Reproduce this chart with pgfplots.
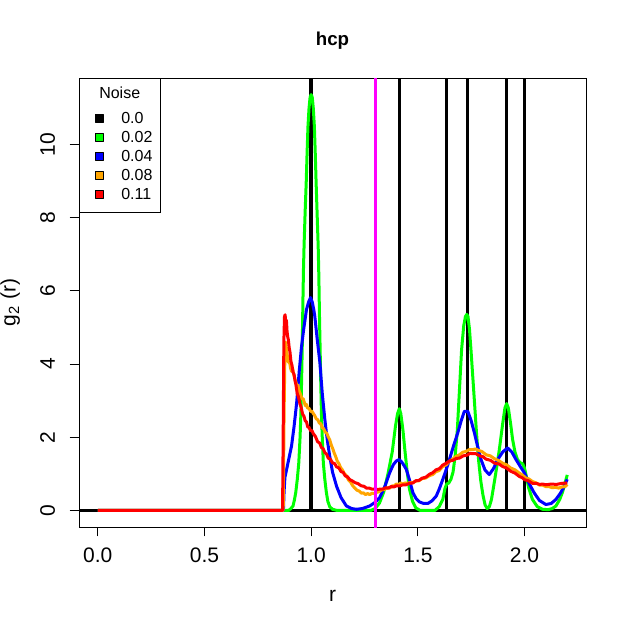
\documentclass[border=0pt]{standalone}
\usepackage{fontspec}
\setmainfont{Liberation Sans}
\usepackage{pgfplots}
\pgfplotsset{compat=1.18}
\definecolor{rgreen}{RGB}{0,255,0}
\definecolor{rblue}{RGB}{0,0,255}
\definecolor{rorange}{RGB}{255,165,0}
\definecolor{rred}{RGB}{255,0,0}
\definecolor{rmag}{RGB}{255,0,255}
\begin{document}
\begin{tikzpicture}
\useasboundingbox (0,0) rectangle (470.25pt,469.5pt);
\begin{axis}[
  at={(59.25pt,74.25pt)}, anchor=south west,
  scale only axis, width=380.25pt, height=336.75pt,
  xmin=-0.088, xmax=2.288, ymin=-0.4548, ymax=11.8248,
  axis line style={line width=0.75pt},
  tick pos=left, tick align=outside, major tick length=7.1pt,
  tick style={line width=0.75pt, black},
  xtick={0,0.5,1,1.5,2}, xticklabels={0.0,0.5,1.0,1.5,2.0},
  ytick={0,2,4,6,8,10}, yticklabels={0,2,4,6,8,10},
  xticklabel style={font=\fontsize{15.75}{18}\selectfont, anchor=base, inner sep=0pt, yshift=-19.6pt},
  yticklabel style={font=\fontsize{15.75}{18}\selectfont, xshift=-11pt, rotate=90, anchor=base, inner sep=0pt},
  xlabel={r}, ylabel={g\textsubscript{2} (r)},
  label style={font=\fontsize{15.75}{18}\selectfont, inner sep=0pt},
  xlabel style={at={(axis description cs:0.5,-0.167)}, anchor=base},
  ylabel style={at={(axis description cs:-0.1252,0.5)}, anchor=base},
  title={\textbf{hcp}},
  title style={font=\fontsize{14}{16}\selectfont, at={(axis description cs:0.5,1.0535)}, anchor=base, inner sep=0pt},
  legend style={at={(axis description cs:0,1)}, anchor=north west, draw=black, line width=0.75pt, fill=white,
    inner xsep=5.85pt, inner ysep=6.2pt, font=\fontsize{12}{14}\selectfont, row sep=2.3pt, column sep=13.4pt,
    nodes={inner sep=0pt, text height=8.6pt, text depth=3.3pt}},
  legend cell align=left,
  every axis plot/.append style={line width=2.25pt, line join=round},
]
% noise 0.0: ideal hcp shells
\addplot[black, ycomb, forget plot, line width=2.6pt] coordinates {(1,20) (1.4142,20) (1.633,20) (1.7321,20) (1.9149,20) (2.0,20)};
\addplot[black, forget plot, line width=2.6pt] coordinates {(-0.2,0) (2.4,0)};
% noise 0.02
\addplot[rgreen, forget plot] coordinates {
(0,0) (0.895,0) (0.905,0.05) (0.915,0.12) (0.922,0.3) (0.928,0.5) (0.935,0.85) (0.942,1.3) (0.948,2.0) (0.952,2.67) (0.955,3.5) (0.958,4.4) (0.961,5.6) (0.964,6.6) (0.967,7.3) (0.972,8.2) (0.977,9.0) (0.981,9.8) (0.985,10.5) (0.990,11.0) (0.995,11.3) (1.0,11.37) (1.005,11.3) (1.010,11.0) (1.015,10.5) (1.019,9.8) (1.023,9.0) (1.028,8.1) (1.033,7.2) (1.036,6.4) (1.039,5.3) (1.042,4.4) (1.045,3.5) (1.048,2.67) (1.052,2.0) (1.057,1.3) (1.064,0.85) (1.071,0.5) (1.078,0.25) (1.087,0.1) (1.1,0.03) (1.12,0) (1.28,0) (1.30,0.05) (1.32,0.2) (1.34,0.5) (1.36,1.0) (1.38,1.6) (1.395,2.3) (1.405,2.65) (1.413,2.78) (1.42,2.65) (1.43,2.2) (1.44,1.6) (1.45,1.05) (1.46,0.6) (1.475,0.25) (1.49,0.07) (1.51,0.0) (1.58,0.0) (1.60,0.1) (1.617,0.3) (1.627,0.6) (1.635,0.72) (1.645,0.75) (1.655,0.85) (1.665,1.05) (1.675,1.5) (1.685,2.2) (1.695,3.3) (1.705,4.4) (1.715,5.05) (1.723,5.3) (1.729,5.36) (1.735,5.3) (1.742,4.95) (1.750,4.3) (1.758,3.6) (1.766,2.9) (1.775,2.1) (1.785,1.35) (1.795,0.8) (1.805,0.42) (1.815,0.15) (1.825,0.05) (1.835,0.1) (1.845,0.3) (1.858,0.76) (1.870,1.2) (1.882,1.67) (1.897,2.35) (1.908,2.8) (1.916,2.92) (1.924,2.8) (1.934,2.4) (1.944,1.94) (1.955,1.6) (1.967,1.39) (1.98,1.3) (1.991,1.28) (2.0,1.15) (2.008,0.94) (2.02,0.6) (2.037,0.30) (2.06,0.1) (2.084,0.03) (2.11,0.02) (2.13,0.05) (2.147,0.12) (2.165,0.3) (2.178,0.5) (2.19,0.75) (2.2,0.97)};
% noise 0.04
\addplot[rblue, forget plot] coordinates {
(0,0) (0.870,0) (0.873,0.5) (0.877,0.9) (0.885,1.12) (0.895,1.4) (0.908,1.76) (0.92,2.3) (0.932,2.94) (0.944,3.8) (0.955,4.49) (0.966,5.0) (0.978,5.49) (0.988,5.7) (0.997,5.82) (1.005,5.7) (1.012,5.5) (1.017,5.31) (1.028,4.7) (1.041,4.04) (1.052,3.2) (1.064,2.49) (1.075,1.95) (1.087,1.48) (1.10,1.05) (1.119,0.66) (1.14,0.35) (1.165,0.12) (1.19,0.05) (1.212,0.03) (1.24,0.05) (1.274,0.12) (1.30,0.22) (1.321,0.35) (1.345,0.65) (1.368,1.03) (1.385,1.25) (1.399,1.35) (1.412,1.39) (1.425,1.32) (1.436,1.22) (1.446,1.12) (1.46,0.85) (1.477,0.48) (1.492,0.32) (1.508,0.23) (1.527,0.19) (1.547,0.19) (1.566,0.26) (1.586,0.39) (1.60,0.58) (1.617,0.85) (1.632,1.1) (1.648,1.39) (1.668,1.78) (1.687,2.12) (1.703,2.45) (1.718,2.71) (1.734,2.71) (1.75,2.45) (1.765,2.12) (1.78,1.75) (1.796,1.39) (1.815,1.1) (1.835,0.98) (1.855,1.15) (1.874,1.39) (1.898,1.6) (1.921,1.71) (1.94,1.6) (1.96,1.39) (1.98,1.2) (1.999,1.03) (2.02,0.75) (2.045,0.48) (2.07,0.27) (2.1,0.16) (2.125,0.19) (2.147,0.30) (2.168,0.47) (2.186,0.66) (2.2,0.85)};
% noise 0.08
\addplot[rorange, forget plot] coordinates {
(0,0) (0.869,0) (0.873,2.6) (0.877,4.3) (0.881,4.6) (0.885,4.35) (0.889,4.2) (0.893,4.05) (0.898,4.1) (0.903,3.9) (0.908,3.8) (0.913,3.88) (0.918,3.72) (0.923,3.6) (0.928,3.52) (0.933,3.4) (0.938,3.42) (0.943,3.28) (0.948,3.2) (0.953,3.12) (0.958,3.04) (0.963,3.05) (0.968,2.95) (0.973,2.86) (0.978,2.9) (0.983,2.8) (0.99,2.79) (0.997,2.71) (1.004,2.71) (1.01,2.65) (1.017,2.59) (1.024,2.5) (1.031,2.48) (1.038,2.39) (1.045,2.37) (1.052,2.26) (1.059,2.23) (1.066,2.14) (1.073,2.11) (1.08,2.01) (1.087,1.93) (1.094,1.79) (1.101,1.69) (1.108,1.57) (1.115,1.47) (1.122,1.35) (1.13,1.28) (1.138,1.17) (1.146,1.11) (1.155,1.01) (1.165,0.95) (1.175,0.83) (1.185,0.77) (1.195,0.67) (1.205,0.61) (1.215,0.55) (1.225,0.53) (1.235,0.47) (1.245,0.48) (1.255,0.43) (1.265,0.46) (1.275,0.43) (1.285,0.47) (1.295,0.46) (1.306,0.49) (1.318,0.51) (1.33,0.56) (1.342,0.57) (1.355,0.61) (1.368,0.61) (1.38,0.67) (1.39,0.67) (1.399,0.72) (1.41,0.71) (1.42,0.75) (1.43,0.72) (1.44,0.75) (1.45,0.74) (1.465,0.76) (1.477,0.76) (1.49,0.8) (1.505,0.81) (1.52,0.87) (1.535,0.88) (1.555,0.95) (1.57,0.98) (1.585,1.06) (1.6,1.09) (1.615,1.19) (1.633,1.25) (1.648,1.34) (1.663,1.4) (1.68,1.48) (1.695,1.52) (1.71,1.59) (1.725,1.61) (1.74,1.66) (1.757,1.66) (1.77,1.68) (1.785,1.64) (1.8,1.61) (1.82,1.52) (1.84,1.49) (1.86,1.41) (1.88,1.36) (1.897,1.29) (1.915,1.25) (1.935,1.16) (1.955,1.11) (1.975,1.02) (1.99,0.97) (2.005,0.89) (2.02,0.86) (2.037,0.79) (2.055,0.75) (2.07,0.69) (2.085,0.69) (2.1,0.65) (2.115,0.65) (2.13,0.62) (2.145,0.63) (2.16,0.61) (2.175,0.64) (2.19,0.65) (2.2,0.71)};
% noise 0.11
\addplot[rred, forget plot] coordinates {
(0,0) (0.866,0) (0.869,2.2) (0.872,4.6) (0.875,5.3) (0.878,5.35) (0.881,5.1) (0.884,5.2) (0.887,4.9) (0.89,4.75) (0.893,4.67) (0.897,4.45) (0.901,4.32) (0.905,4.08) (0.91,3.97) (0.915,3.78) (0.92,3.72) (0.924,3.56) (0.929,3.42) (0.935,3.18) (0.94,3.12) (0.947,2.92) (0.953,2.82) (0.96,2.63) (0.966,2.58) (0.972,2.45) (0.978,2.42) (0.984,2.28) (0.99,2.27) (0.997,2.18) (1.004,2.18) (1.01,2.1) (1.02,2.02) (1.03,1.88) (1.04,1.84) (1.048,1.72) (1.056,1.69) (1.064,1.58) (1.072,1.54) (1.08,1.43) (1.09,1.4) (1.1,1.3) (1.11,1.28) (1.119,1.19) (1.13,1.16) (1.14,1.06) (1.15,1.04) (1.16,0.94) (1.17,0.92) (1.181,0.84) (1.192,0.81) (1.205,0.76) (1.22,0.73) (1.235,0.67) (1.247,0.66) (1.259,0.61) (1.272,0.61) (1.285,0.58) (1.3,0.58) (1.31,0.57) (1.321,0.58) (1.335,0.58) (1.35,0.62) (1.36,0.61) (1.375,0.65) (1.387,0.64) (1.399,0.67) (1.415,0.67) (1.43,0.7) (1.445,0.7) (1.46,0.74) (1.477,0.75) (1.49,0.81) (1.505,0.82) (1.52,0.88) (1.538,0.91) (1.555,0.99) (1.57,1.03) (1.585,1.11) (1.6,1.14) (1.617,1.24) (1.633,1.29) (1.648,1.35) (1.665,1.37) (1.68,1.42) (1.695,1.43) (1.712,1.49) (1.73,1.51) (1.745,1.56) (1.757,1.55) (1.772,1.55) (1.79,1.49) (1.805,1.47) (1.82,1.4) (1.84,1.37) (1.86,1.29) (1.88,1.27) (1.897,1.2) (1.915,1.16) (1.935,1.07) (1.955,1.02) (1.975,0.93) (1.99,0.89) (2.0,0.84) (2.018,0.81) (2.037,0.74) (2.055,0.74) (2.07,0.71) (2.085,0.72) (2.1,0.7) (2.125,0.72) (2.15,0.71) (2.175,0.74) (2.2,0.75)};
% cutoff
\addplot[rmag, forget plot] coordinates {(1.3,-1) (1.3,13)};
% legend
\addlegendimage{empty legend}
\addlegendentry[text depth=8.4pt]{\hspace*{-16.5pt}Noise}
\addlegendimage{legend image code/.code={\path (0pt,0pt); \filldraw[fill=black, draw=black, line width=0.5pt] (4.6pt,-1.4pt) rectangle (10.7pt,4.7pt);}}
\addlegendentry{0.0}
\addlegendimage{legend image code/.code={\path (0pt,0pt); \filldraw[fill=rgreen, draw=black, line width=0.5pt] (4.6pt,-1.4pt) rectangle (10.7pt,4.7pt);}}
\addlegendentry{0.02}
\addlegendimage{legend image code/.code={\path (0pt,0pt); \filldraw[fill=rblue, draw=black, line width=0.5pt] (4.6pt,-1.4pt) rectangle (10.7pt,4.7pt);}}
\addlegendentry{0.04}
\addlegendimage{legend image code/.code={\path (0pt,0pt); \filldraw[fill=rorange, draw=black, line width=0.5pt] (4.6pt,-1.4pt) rectangle (10.7pt,4.7pt);}}
\addlegendentry{0.08}
\addlegendimage{legend image code/.code={\path (0pt,0pt); \filldraw[fill=rred, draw=black, line width=0.5pt] (4.6pt,-1.4pt) rectangle (10.7pt,4.7pt);}}
\addlegendentry{0.11}
\end{axis}
\end{tikzpicture}
\end{document}
